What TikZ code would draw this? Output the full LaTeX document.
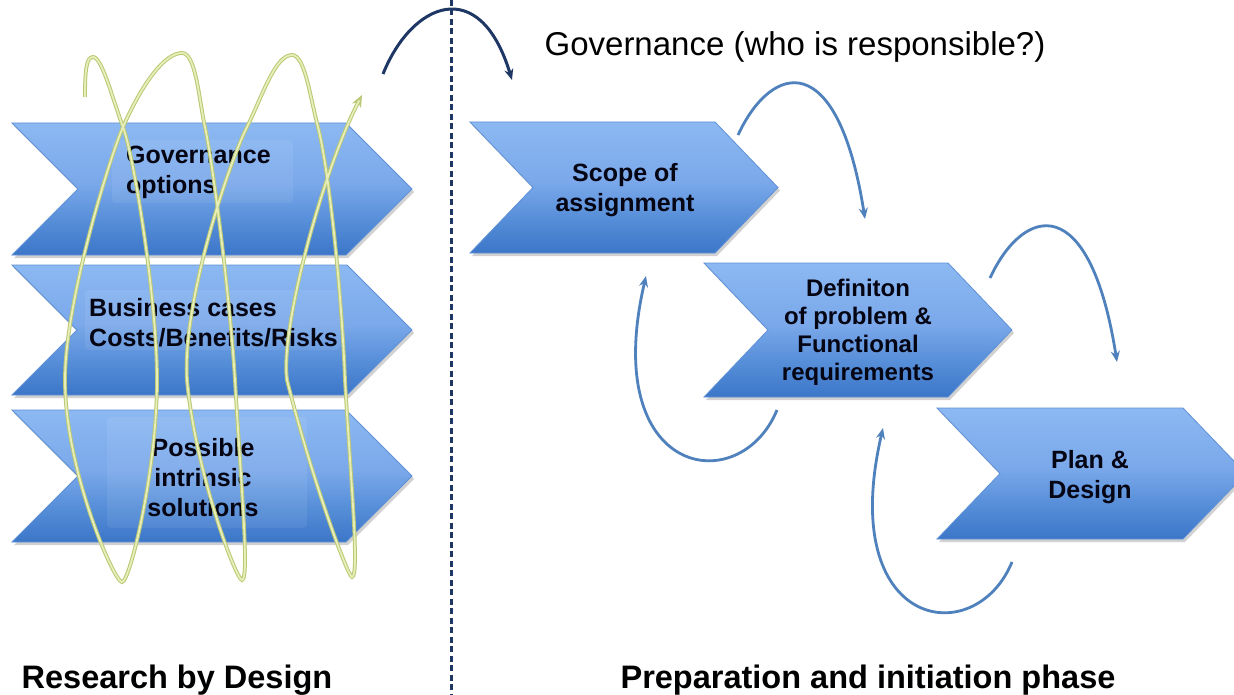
\documentclass[tikz,border=0pt]{standalone}
\usepackage{fontspec}
\setmainfont{Liberation Sans}
\usetikzlibrary{arrows.meta}
\definecolor{chevtop}{RGB}{140,185,242}
\definecolor{chevmid}{RGB}{122,168,234}
\definecolor{chevlow}{RGB}{86,142,216}
\definecolor{chevbot}{RGB}{60,118,200}
\definecolor{chevedge}{RGB}{95,145,215}
\definecolor{navy}{RGB}{30,55,100}
\definecolor{loopblue}{RGB}{79,129,189}
\definecolor{coilout}{RGB}{186,200,116}
\definecolor{coilin}{RGB}{232,238,186}
\definecolor{txt}{RGB}{5,5,20}
\pgfdeclareverticalshading{chevshade}{100bp}{color(0bp)=(chevbot); color(25bp)=(chevbot);
  color(38bp)=(chevlow); color(52bp)=(chevmid); color(75bp)=(chevtop); color(100bp)=(chevtop)}
\newcommand\chevronpath[5]{(#1,#2) -- (#1+#3-#5,#2) -- (#1+#3,#2+#4/2) -- (#1+#3-#5,#2+#4)
     -- (#1,#2+#4) -- (#1+#5,#2+#4/2) -- cycle}
\newcommand\chevronshape[6]{%
  \fill[chevshadow] \chevronpath{#2+2}{#3+3}{#4}{#5}{#6};
  \shade[chevron] \chevronpath{#2}{#3}{#4}{#5}{#6};
  \coordinate (#1) at (#2+#4/2,#3+#5/2);}
\begin{document}
\begin{tikzpicture}[x=1pt,y=-1pt,
  chevron/.style={shading=chevshade, draw=chevedge, line width=0.8pt},
  chevshadow/.style={fill=black, fill opacity=0.18},
  lbl/.style={font=\bfseries\fontsize{25}{30}\selectfont, text=txt, inner sep=0pt, align=center},
  gloss/.style={fill=white, fill opacity=0.07, rounded corners=4pt},
  bluearrow/.style={draw=loopblue, line width=2.8pt, -{Stealth[length=11pt,width=9pt]}},
  navyarrow/.style={draw=navy, line width=3pt, -{Stealth[length=11pt,width=9pt]}},
  divider/.style={draw=navy, line width=3pt, dash pattern=on 6pt off 3.5pt},
  heading/.style={font=\bfseries\fontsize{32.5}{36}\selectfont, text=black, inner sep=0pt, anchor=base}]
\useasboundingbox (0,0) rectangle (1234,695);
\fill[white] (0,0) rectangle (1234,695);

% left chevrons
\chevronshape{c1}{12}{123}{400}{132}{66}
\chevronshape{c2}{12}{265}{400}{130}{65}
\chevronshape{c3}{12}{410}{400}{132}{66}
\fill[gloss] (112,140) rectangle (293,203);
\fill[gloss] (85,290) rectangle (340,350);
\fill[gloss] (107,417) rectangle (307,528);

% right chevrons
\chevronshape{scope}{470}{122}{308}{131}{63}
\chevronshape{defn}{704}{263}{308}{134}{64}
\chevronshape{plan}{937}{408}{309}{131}{63}

% labels
\node[lbl, align=left, anchor=west] (t1) at (126,172) {Governance\\options};
\node[lbl, align=left, anchor=west] (t2) at (89,323) {Business cases\\Costs/Benefits/Risks};
\node[lbl] (t3) at (203,478) {Possible\\intrinsic\\solutions};
\node[lbl] (t4) at (625,190) {Scope of\\assignment};
\node[lbl, font=\bfseries\fontsize{24}{28}\selectfont] (t5) at (858,332) {Definiton\\of problem \&\\Functional\\requirements};
\node[lbl] (t6) at (1090,477) {Plan \&\\Design};

% coil
\def\coilpath{(85,97) .. controls (85,72) and (86,57) .. (93,57)
 .. controls (102,57) and (113,100) .. (123,127)
 .. controls (134,156) and (157,300) .. (157,380)
 .. controls (157,470) and (130,582) .. (122,582)
 .. controls (114,582) and (65,470) .. (65,380)
 .. controls (65,300) and (111,154) .. (123,127)
 .. controls (143,82) and (165,53) .. (182,53)
 .. controls (196,53) and (199,100) .. (205,127)
 .. controls (214,170) and (230,300) .. (235,380)
 .. controls (240,470) and (250,580) .. (242,580)
 .. controls (236,580) and (195,470) .. (187,380)
 .. controls (182,300) and (231,158) .. (247,127)
 .. controls (262,97) and (275,55) .. (292,55)
 .. controls (305,55) and (310,97) .. (318,127)
 .. controls (330,175) and (342,300) .. (345,380)
 .. controls (350,470) and (360,577) .. (352,577)
 .. controls (348,577) and (312,480) .. (287,380)
 .. controls (280,330) and (322,172) .. (362,95)}
\draw[coilout, line width=3.8pt, -{Stealth[length=12pt,width=10pt]}] \coilpath;
\draw[coilin, line width=1.8pt, shorten >=6pt] \coilpath;

% divider
\coordinate (dtop) at (451,0);
\coordinate (dbot) at (451,695);
\draw[divider] (dtop) -- (dbot);

% navy arrow over the divider
\coordinate (ns) at (383,74);
\coordinate (ne) at (512,80);
\draw[navyarrow] (ns) .. controls +(29,-72) and +(-32,-106) .. (ne);

% blue loop arrows
\coordinate (a1s) at (738,135); \coordinate (a1e) at (865,219);
\coordinate (a2s) at (990,278); \coordinate (a2e) at (1117,362);
\coordinate (a3s) at (777,410); \coordinate (a3e) at (646,276);
\coordinate (a4s) at (1012,562); \coordinate (a4e) at (883,428);
\draw[bluearrow] (a1s) .. controls +(34,-73) and +(-27,-172) .. (a1e);
\draw[bluearrow] (a2s) .. controls +(34,-73) and +(-27,-172) .. (a2e);
\draw[bluearrow] (a3s) .. controls +(-37,90) and +(-47,202) .. (a3e);
\draw[bluearrow] (a4s) .. controls +(-37,90) and +(-47,202) .. (a4e);

% texts
\node[font=\fontsize{33}{38}\selectfont, inner sep=0pt, text=black] (gov) at (795,47) {Governance (who is responsible?)};
\node[heading] (h1) at (177,688) {Research by Design};
\node[heading] (h2) at (868,688) {Preparation and initiation phase};
\end{tikzpicture}
\end{document}
